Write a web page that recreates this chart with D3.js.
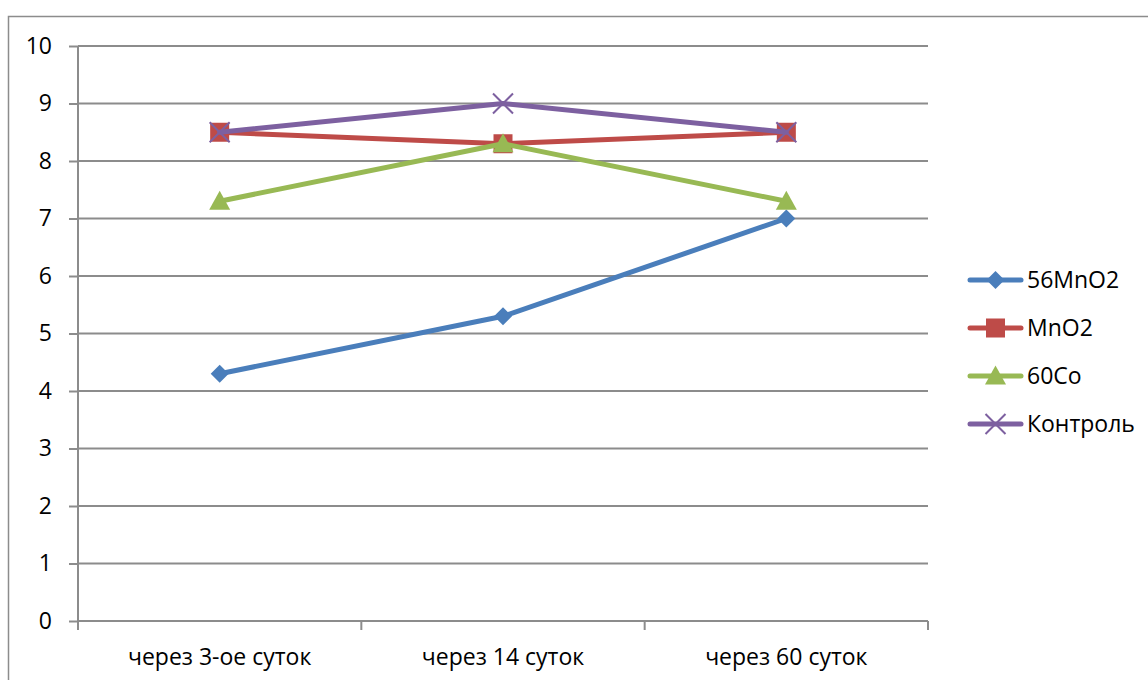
<!DOCTYPE html>
<html>
<head>
<meta charset="utf-8">
<script src="https://cdn.jsdelivr.net/npm/d3@7"></script>
<style>
  html, body { margin: 0; padding: 0; background: #fff; }
  svg { display: block; font-family: "Open Sans", "Noto Sans", sans-serif; }
</style>
</head>
<body>
<svg id="chart" width="1148" height="680"></svg>
<script>
// Time points after treatment
const categories = ["через 3-ое суток", "через 14 суток", "через 60 суток"];

// Series values per time point
const seriesNames = ["56MnO2", "MnO2", "60Co", "Контроль"];
const s56MnO2 = [4.3, 5.3, 7.0];
const sMnO2 = [8.5, 8.3, 8.5];
const s60Co = [7.3, 8.3, 7.3];
const sControl = [8.5, 9.0, 8.5];

const yTicks = [0, 1, 2, 3, 4, 5, 6, 7, 8, 9, 10];

const series = [
  { name: seriesNames[0], values: s56MnO2, color: "#4a7ebb", marker: "diamond" },
  { name: seriesNames[1], values: sMnO2, color: "#be4b48", marker: "square" },
  { name: seriesNames[2], values: s60Co, color: "#98b954", marker: "triangle" },
  { name: seriesNames[3], values: sControl, color: "#7d60a0", marker: "x" }
];

const FONT_SIZE = 23;
const LINE_W = 5;
const svg = d3.select("#chart");
const plot = { left: 78, right: 928, top: 46, bottom: 621 };

// Outer chart frame
svg.append("rect")
  .attr("x", 8.5).attr("y", 16.5)
  .attr("width", 1160).attr("height", 700)
  .attr("fill", "none").attr("stroke", "#8c8c8c").attr("stroke-width", 1.5);

const x = d3.scaleBand().domain(categories).range([plot.left, plot.right]).paddingInner(0).paddingOuter(0);
const y = d3.scaleLinear().domain([0, 10]).range([plot.bottom, plot.top]);
const cx = c => x(c) + x.bandwidth() / 2;

// Horizontal gridlines
svg.append("g").selectAll("line").data(yTicks.filter(t => t > 0)).join("line")
  .attr("x1", plot.left).attr("x2", plot.right)
  .attr("y1", d => y(d)).attr("y2", d => y(d))
  .attr("stroke", "#8c8c8c").attr("stroke-width", 2);

// Y axis
const yAxis = svg.append("g")
  .attr("transform", `translate(${plot.left},0)`)
  .call(d3.axisLeft(y).tickValues(yTicks).tickSize(9).tickPadding(17).tickFormat(d3.format("d")));
yAxis.select(".domain").attr("stroke", "#8c8c8c").attr("stroke-width", 2).attr("d", `M0,${plot.top}V${plot.bottom}`);
yAxis.selectAll(".tick line").attr("stroke", "#8c8c8c").attr("stroke-width", 2);
yAxis.selectAll(".tick text").attr("font-size", FONT_SIZE).attr("fill", "#000").attr("font-family", "Open Sans, Noto Sans, sans-serif");

// X axis with tick marks on category boundaries
const xAxisG = svg.append("g").attr("transform", `translate(0,${plot.bottom})`);
xAxisG.append("line").attr("x1", plot.left).attr("x2", plot.right)
  .attr("stroke", "#8c8c8c").attr("stroke-width", 2);
const boundaries = categories.map(c => x(c)).concat([x(categories[categories.length - 1]) + x.bandwidth()]);
xAxisG.selectAll("line.tk").data(boundaries).join("line").attr("class", "tk")
  .attr("x1", d => d).attr("x2", d => d).attr("y1", 0).attr("y2", 9)
  .attr("stroke", "#8c8c8c").attr("stroke-width", 2);
xAxisG.selectAll("text").data(categories).join("text")
  .attr("x", d => cx(d)).attr("y", 44)
  .attr("text-anchor", "middle").attr("font-size", FONT_SIZE).attr("fill", "#000")
  .text(d => d);

// Marker shapes
function drawMarker(g, type, px, py, color, scale = 1) {
  if (type === "diamond") {
    const r = 9 * scale;
    g.append("path").attr("d", `M${px},${py - r}L${px + r},${py}L${px},${py + r}L${px - r},${py}Z`).attr("fill", color);
  } else if (type === "square") {
    const s = 19 * scale;
    g.append("rect").attr("x", px - s / 2).attr("y", py - s / 2).attr("width", s).attr("height", s).attr("fill", color);
  } else if (type === "triangle") {
    const w = 21 * scale, h = 19 * scale;
    g.append("path").attr("d", `M${px},${py - h * 0.55}L${px + w / 2},${py + h * 0.45}L${px - w / 2},${py + h * 0.45}Z`).attr("fill", color);
  } else if (type === "x") {
    const r = 10 * scale;
    g.append("path").attr("d", `M${px - r},${py - r}L${px + r},${py + r}M${px - r},${py + r}L${px + r},${py - r}`)
      .attr("stroke", color).attr("stroke-width", 2).attr("fill", "none");
  }
}

const line = d3.line().x((d, i) => cx(categories[i])).y(d => y(d));

series.forEach(s => {
  const g = svg.append("g");
  g.append("path").datum(s.values).attr("d", line)
    .attr("fill", "none").attr("stroke", s.color).attr("stroke-width", LINE_W)
    .attr("stroke-linejoin", "round").attr("stroke-linecap", "round");
  s.values.forEach((v, i) => drawMarker(g, s.marker, cx(categories[i]), y(v), s.color));
});

// Legend
const legend = svg.append("g");
const legendY = [280, 328, 376, 424];
series.forEach((s, i) => {
  const g = legend.append("g");
  const ly = legendY[i];
  g.append("line").attr("x1", 970).attr("x2", 1021).attr("y1", ly).attr("y2", ly)
    .attr("stroke", s.color).attr("stroke-width", LINE_W).attr("stroke-linecap", "round");
  drawMarker(g, s.marker, 995.5, ly, s.color);
  g.append("text").attr("x", 1027).attr("y", ly).attr("dy", "0.35em")
    .attr("font-size", FONT_SIZE).attr("fill", "#000").text(s.name);
});
</script>
</body>
</html>
